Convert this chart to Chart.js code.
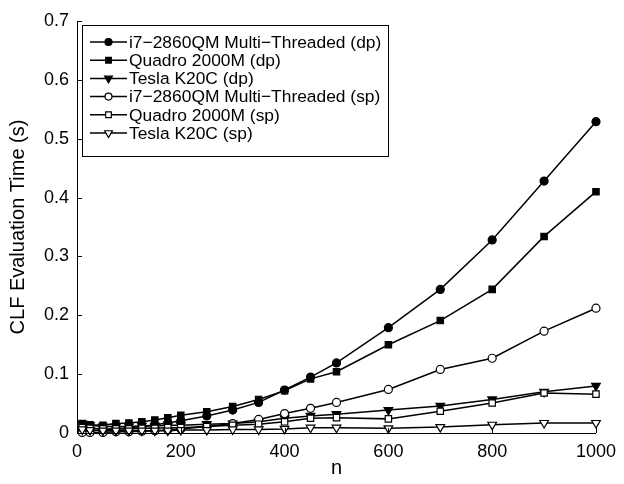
<!DOCTYPE html>
<html>
<head>
<meta charset="utf-8">
<script src="https://cdn.jsdelivr.net/npm/chart.js@4"></script>
<style>
body{margin:0;background:#fff}
#chart{display:block}
</style>
</head>
<body>
<canvas id="chart" width="624" height="484"></canvas>
<script>
// problem size n
const nValues = [10,25,50,75,100,125,150,175,200,250,300,350,400,450,500,600,700,800,900,1000]

// evaluation times (s)
const i7Dp     = [0.004,0.004,0.005,0.007,0.009,0.011,0.014,0.017,0.021,0.029,0.039,0.052,0.073,0.095,0.119,0.179,0.244,0.328,0.428,0.529]
const quadroDp = [0.016,0.014,0.013,0.016,0.017,0.019,0.022,0.026,0.030,0.036,0.045,0.057,0.072,0.092,0.104,0.150,0.191,0.244,0.334,0.410]
const teslaDp  = [0.016,0.013,0.011,0.011,0.011,0.012,0.012,0.013,0.013,0.015,0.016,0.019,0.025,0.029,0.032,0.039,0.046,0.057,0.070,0.080]
const i7Sp     = [0.001,0.001,0.001,0.002,0.002,0.003,0.004,0.005,0.007,0.011,0.016,0.023,0.033,0.042,0.052,0.074,0.108,0.127,0.173,0.212]
const quadroSp = [0.009,0.008,0.007,0.007,0.007,0.008,0.008,0.009,0.009,0.011,0.013,0.015,0.019,0.025,0.026,0.024,0.037,0.051,0.068,0.066]
const teslaSp  = [0.006,0.005,0.004,0.004,0.004,0.004,0.004,0.004,0.005,0.005,0.006,0.006,0.007,0.009,0.009,0.008,0.010,0.014,0.017,0.017]

const seriesLabels = [
"i7\u22122860QM Multi\u2212Threaded (dp)",
"Quadro 2000M (dp)",
"Tesla K20C (dp)",
"i7\u22122860QM Multi\u2212Threaded (sp)",
"Quadro 2000M (sp)",
"Tesla K20C (sp)"
]
const seriesValues = [i7Dp, quadroDp, teslaDp, i7Sp, quadroSp, teslaSp]

const yTicks = [0,0.1,0.2,0.3,0.4,0.5,0.6,0.7]
const xTicks = [0,200,400,600,800,1000]

const markers = [
{style:"circle", radius:4, rotation:0, fill:"#000"},
{style:"rect", radius:4.5, rotation:0, fill:"#000"},
{style:"triangle", radius:5, rotation:180, fill:"#000"},
{style:"circle", radius:4, rotation:0, fill:"#fff"},
{style:"rect", radius:4.5, rotation:0, fill:"#fff"},
{style:"triangle", radius:5, rotation:180, fill:"#fff"}
]

const FONT = "'Liberation Sans', Arial, sans-serif"

const datasets = seriesValues.map(function(vals, i){
return {
label: seriesLabels[i],
data: vals.map(function(v, k){ return {x:nValues[k], y:v} }),
borderColor:"#000",
borderWidth:1.5,
pointStyle:markers[i].style,
pointRadius:markers[i].radius,
pointRotation:markers[i].rotation,
pointBackgroundColor:markers[i].fill,
pointBorderColor:"#000",
pointBorderWidth:1.2,
fill:false,
tension:0,
clip:false,
order:5-i
}
})

// inward tick marks + legend box, MATLAB style
const axisExtras = {
id:"axisExtras",
afterDatasetsDraw(chart){
const ctx = chart.ctx
const a = chart.chartArea
const xs = chart.scales.x, ys = chart.scales.y
ctx.save()
ctx.strokeStyle = "#000"
ctx.lineWidth = 1
ctx.beginPath()
ctx.moveTo(a.left+0.5, a.top)
ctx.lineTo(a.left+0.5, a.bottom+0.5)
ctx.lineTo(a.right, a.bottom+0.5)
xTicks.forEach(function(t){
const px = Math.round(xs.getPixelForValue(t))+0.5
ctx.moveTo(px, a.bottom)
ctx.lineTo(px, a.bottom-5)
})
yTicks.forEach(function(t){
const py = Math.round(ys.getPixelForValue(t))+0.5
ctx.moveTo(a.left, py)
ctx.lineTo(a.left+5, py)
})
ctx.stroke()
ctx.restore()
},
afterDraw(chart){
const ctx = chart.ctx
const bx = 82.5, by = 25.5, bw = 306, bh = 131
ctx.save()
ctx.fillStyle = "#fff"
ctx.fillRect(bx, by, bw, bh)
ctx.strokeStyle = "#000"
ctx.lineWidth = 1
ctx.strokeRect(bx, by, bw, bh)
ctx.font = "17.4px " + FONT
ctx.textBaseline = "middle"
chart.data.datasets.forEach(function(ds, i){
const y = 42 + i*18.2
ctx.strokeStyle = "#000"
ctx.lineWidth = 1.5
ctx.beginPath()
ctx.moveTo(90, y)
ctx.lineTo(127, y)
ctx.stroke()
ctx.fillStyle = ds.pointBackgroundColor
ctx.lineWidth = 1.2
Chart.helpers.drawPoint(ctx, {pointStyle:ds.pointStyle, radius:ds.pointRadius-0.5, rotation:ds.pointRotation, borderWidth:1.2}, 108.5, y)
ctx.fillStyle = "#000"
ctx.fillText(ds.label, 129, y+1)
})
ctx.restore()
}
}

new Chart(document.getElementById("chart"),{
type:"line",
data:{datasets:datasets},
options:{
responsive:false,
animation:false,
devicePixelRatio:1,
layout:{padding:{top:21,right:20,left:0,bottom:0}},
plugins:{legend:{display:false},tooltip:{enabled:false}},
scales:{
x:{
type:"linear",
min:0,
max:1000,
afterBuildTicks(scale){ scale.ticks = xTicks.map(function(v){ return {value:v} }) },
afterFit(scale){ scale.height = 51 },
ticks:{color:"#000",font:{family:FONT,size:18},padding:8,maxRotation:0,
callback:function(v){ return String(v) }},
grid:{display:false,drawTicks:false},
border:{display:false},
title:{display:true,text:"n",color:"#000",font:{family:FONT,size:20},padding:{top:0,bottom:4}}
},
y:{
min:0,
max:0.7,
afterBuildTicks(scale){ scale.ticks = yTicks.map(function(v){ return {value:v} }) },
afterFit(scale){ scale.width = 77 },
ticks:{color:"#000",font:{family:FONT,size:18},padding:8,
callback:function(v){ return v===0 ? "0" : v.toFixed(1) }},
grid:{display:false,drawTicks:false},
border:{display:false},
title:{display:true,text:"CLF Evaluation Time (s)",color:"#000",font:{family:FONT,size:20},padding:{top:6,bottom:0}}
}
}
},
plugins:[axisExtras]
})
</script>
</body>
</html>
